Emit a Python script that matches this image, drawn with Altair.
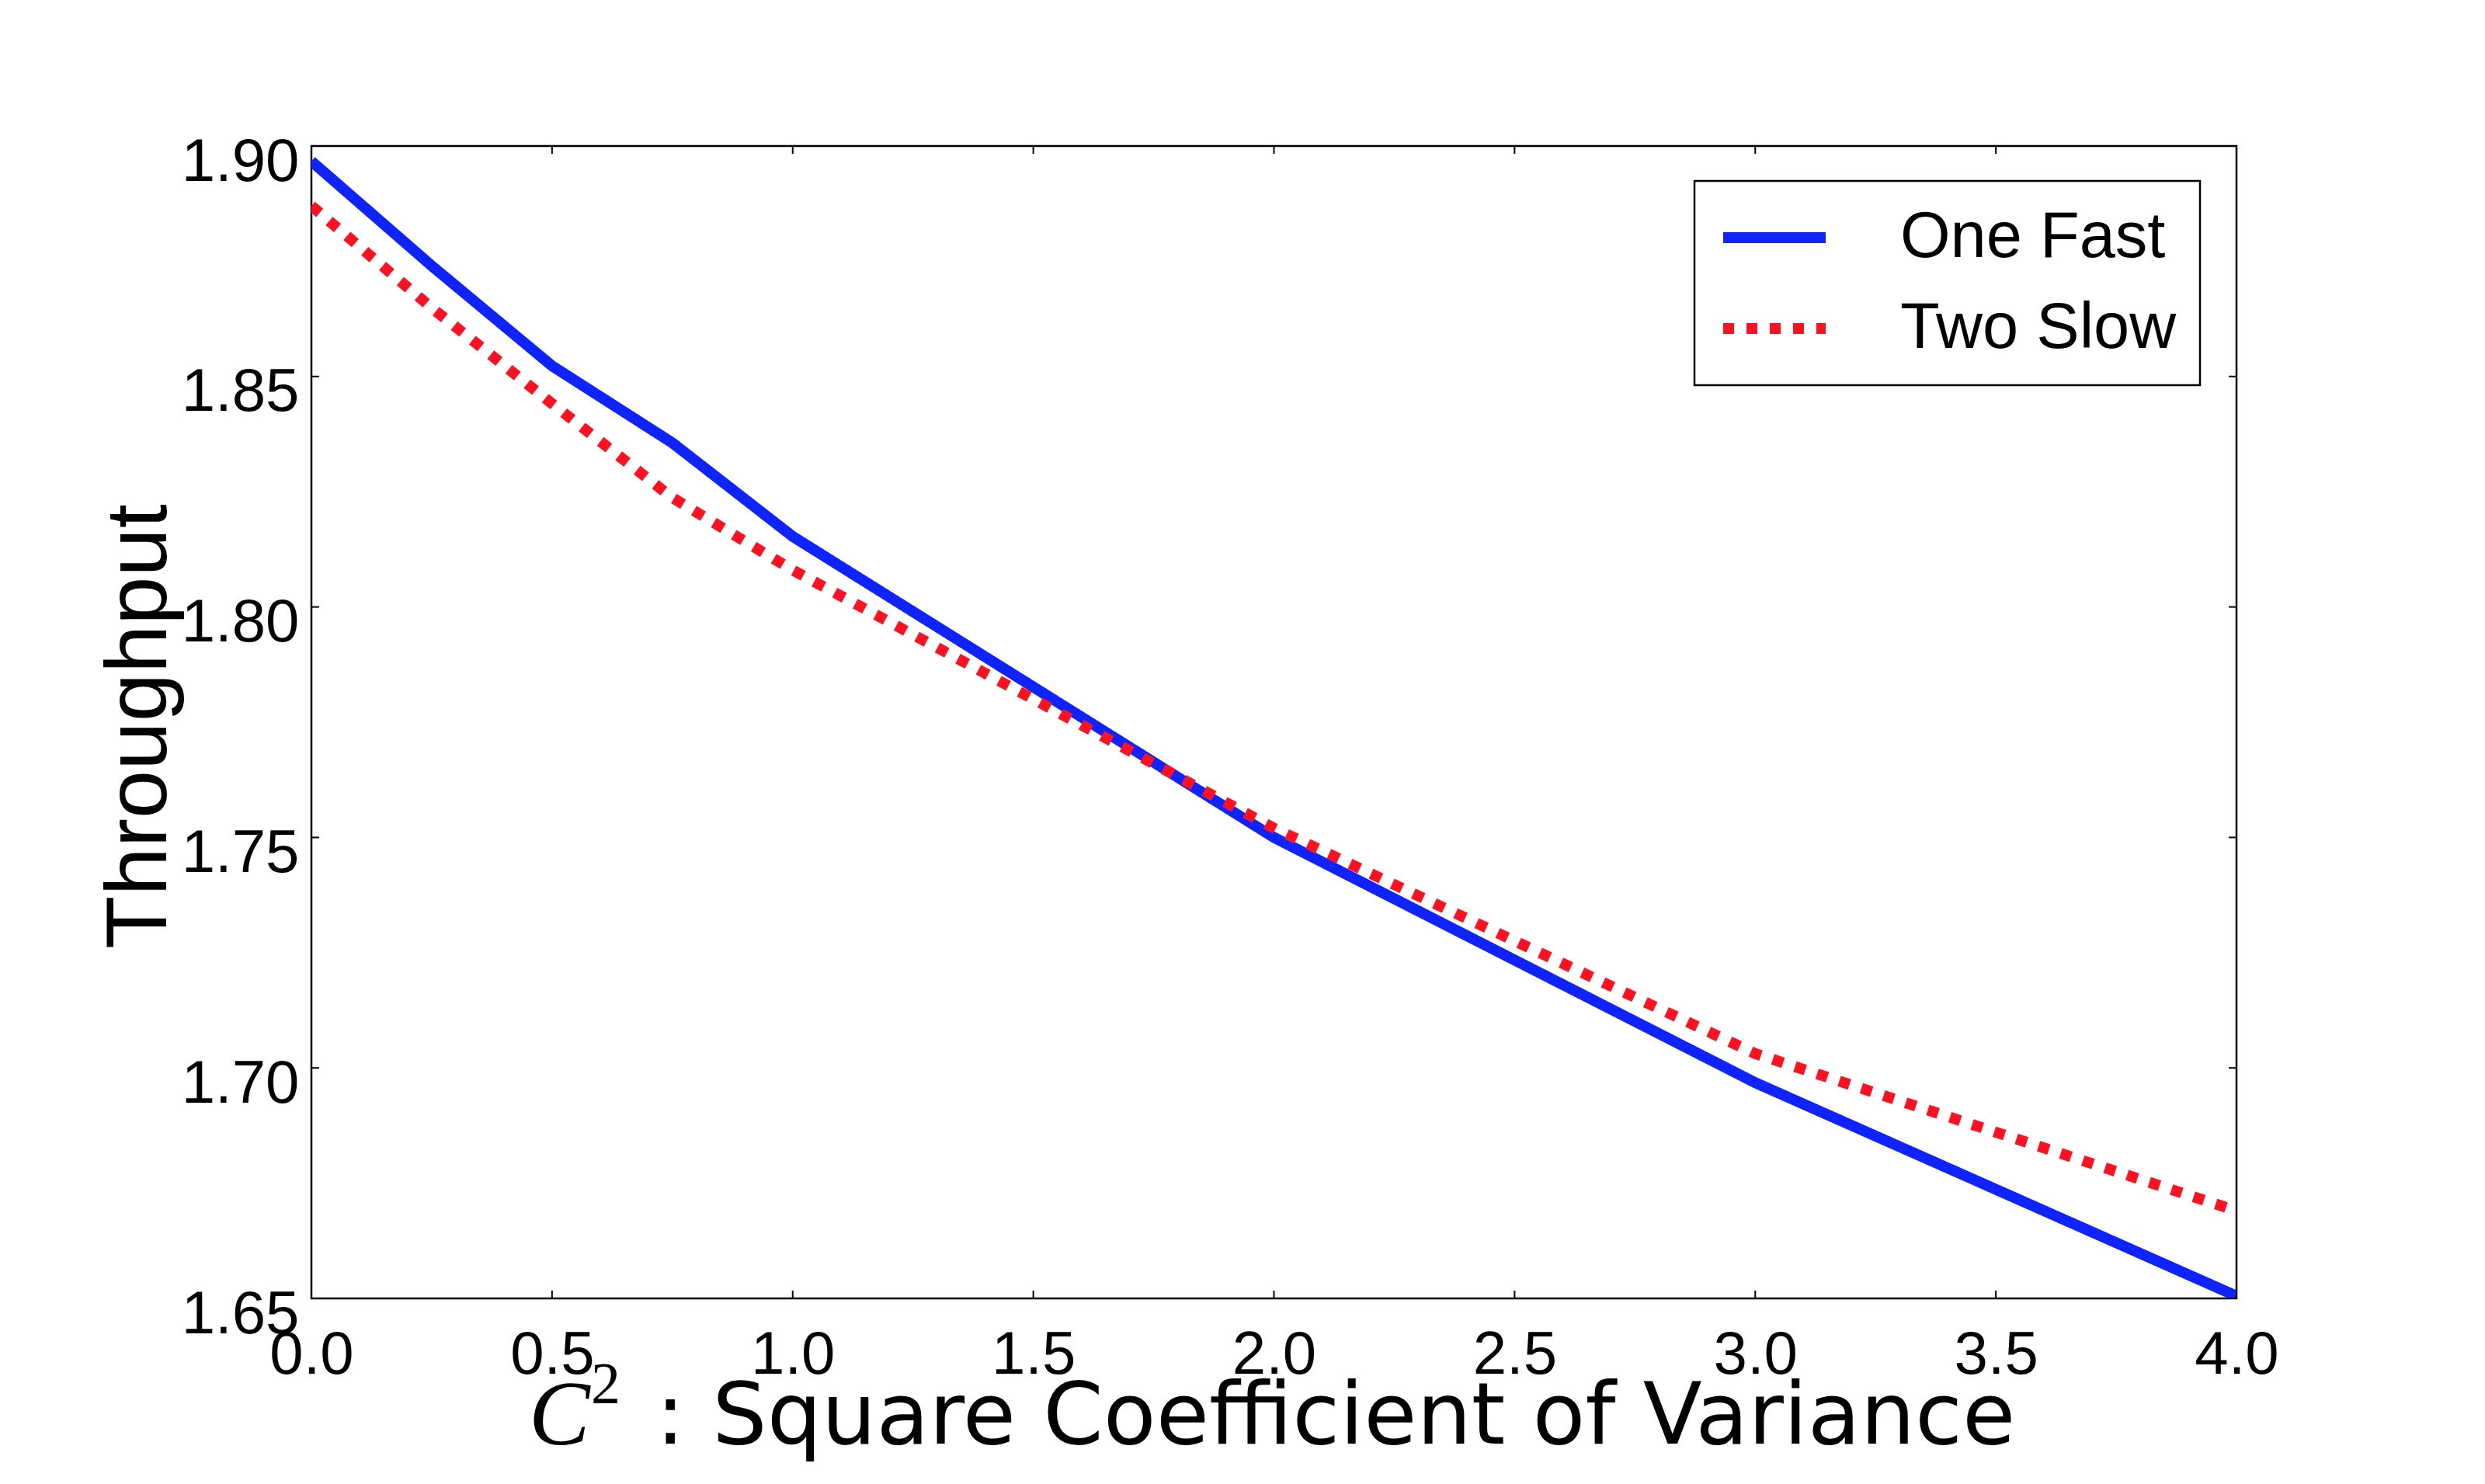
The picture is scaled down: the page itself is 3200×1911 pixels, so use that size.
import altair as alt
import pandas as pd

# ---- data ----
x_vals = [0.0, 0.25, 0.5, 0.75, 1.0, 2.0, 3.0, 4.0]
one_fast = [1.8967, 1.8740, 1.8523, 1.8356, 1.8153, 1.7500, 1.6968, 1.6505]
two_slow = [1.8870, 1.8649, 1.8441, 1.8237, 1.8080, 1.7520, 1.7031, 1.6690]
series_names = ["One Fast", "Two Slow"]
x_ticks = [0.0, 0.5, 1.0, 1.5, 2.0, 2.5, 3.0, 3.5, 4.0]
y_ticks = [1.65, 1.70, 1.75, 1.80, 1.85, 1.90]

W, H = 2479, 1484
BLUE, RED = "#0f23ff", "#ff1122"

rows = []
for xv, a, b in zip(x_vals, one_fast, two_slow):
    rows.append({"x": xv, "y": a, "series": series_names[0]})
    rows.append({"x": xv, "y": b, "series": series_names[1]})
df = pd.DataFrame(rows)

xt = pd.DataFrame({"x": x_ticks})
yt = pd.DataFrame({"y": y_ticks})

xscale = alt.Scale(domain=[0, 4], nice=False, zero=False)
yscale = alt.Scale(domain=[1.65, 1.90], nice=False, zero=False)

x_axis = alt.Axis(values=x_ticks, format=".1f", ticks=False, domain=False, grid=False,
                  labelFont="Liberation Sans", labelFontSize=78, labelColor="black",
                  labelBaseline="alphabetic", labelPadding=96, labelFlush=False,
                  labelOverlap=False,
                  title=": Square Coefficient of Variance", titleFont="DejaVu Sans",
                  titleFontSize=111, titleFontWeight="normal", titleColor="black",
                  titleAlign="left", titleAnchor="start", titleBaseline="alphabetic",
                  titleX=443, titleY=186)
y_axis = alt.Axis(values=y_ticks, format=".2f", ticks=False, domain=False, grid=False,
                  labelFont="Liberation Sans", labelFontSize=78, labelColor="black",
                  labelBaseline="alphabetic", labelOffset=44, labelPadding=16,
                  labelFlush=False, labelOverlap=False,
                  title="Throughput", titleFont="Liberation Sans", titleFontSize=112,
                  titleFontWeight="normal", titleColor="black",
                  titleAlign="center", titleBaseline="alphabetic", titleAngle=270,
                  titleX=-188, titleY=747)

leg = alt.Legend(
    title=None, orient="none", legendX=1781, legendY=45,
    symbolType="stroke", symbolSize=17424, symbolStrokeWidth=14,
    labelFont="Liberation Sans", labelFontSize=83, labelColor="black", labelLimit=2000,
    labelOffset=89, padding=30, clipHeight=86, rowPadding=31,
    strokeColor="black", fillColor="white",
)

lines = alt.Chart(df).mark_line(strokeWidth=14, strokeCap="butt", strokeJoin="round", clip=True).encode(
    x=alt.X("x:Q", scale=xscale, axis=x_axis),
    y=alt.Y("y:Q", scale=yscale, axis=y_axis),
    color=alt.Color("series:N", scale=alt.Scale(domain=series_names, range=[BLUE, RED]), legend=leg),
    strokeDash=alt.StrokeDash("series:N", scale=alt.Scale(domain=series_names, range=[[1, 0], [14, 16]]), legend=leg),
)

tick_style = dict(color="black", strokeWidth=2)
bottom_ticks = alt.Chart(xt).mark_rule(**tick_style).encode(
    x=alt.X("x:Q", scale=xscale, axis=x_axis), y=alt.value(H), y2=alt.value(H - 10))
top_ticks = alt.Chart(xt).mark_rule(**tick_style).encode(
    x=alt.X("x:Q", scale=xscale, axis=x_axis), y=alt.value(0), y2=alt.value(10))
left_ticks = alt.Chart(yt).mark_rule(**tick_style).encode(
    y=alt.Y("y:Q", scale=yscale, axis=y_axis), x=alt.value(0), x2=alt.value(10))
right_ticks = alt.Chart(yt).mark_rule(**tick_style).encode(
    y=alt.Y("y:Q", scale=yscale, axis=y_axis), x=alt.value(W), x2=alt.value(W - 10))

c_letter = alt.Chart(pd.DataFrame({"t": ["C"]})).mark_text(
    font="Liberation Serif", fontStyle="italic", fontSize=118, align="left",
    baseline="alphabetic", color="black").encode(
    text="t:N", x=alt.value(280), y=alt.value(1672))
c_sup = alt.Chart(pd.DataFrame({"t": ["2"]})).mark_text(
    font="Liberation Serif", fontSize=76, align="left",
    baseline="alphabetic", color="black").encode(
    text="t:N", x=alt.value(360), y=alt.value(1619))

chart = alt.layer(
    lines, bottom_ticks, top_ticks, left_ticks, right_ticks, c_letter, c_sup
).properties(
    width=W, height=H,
    autosize=alt.AutoSizeParams(type="none"),
    padding={"left": 393, "top": 180, "right": 300, "bottom": 220},
).configure_view(
    stroke="black", strokeWidth=2.5
).configure_legend(
    strokeWidth=2.5
)

chart.save("out.html", embed_options={"renderer": "svg", "actions": False})
